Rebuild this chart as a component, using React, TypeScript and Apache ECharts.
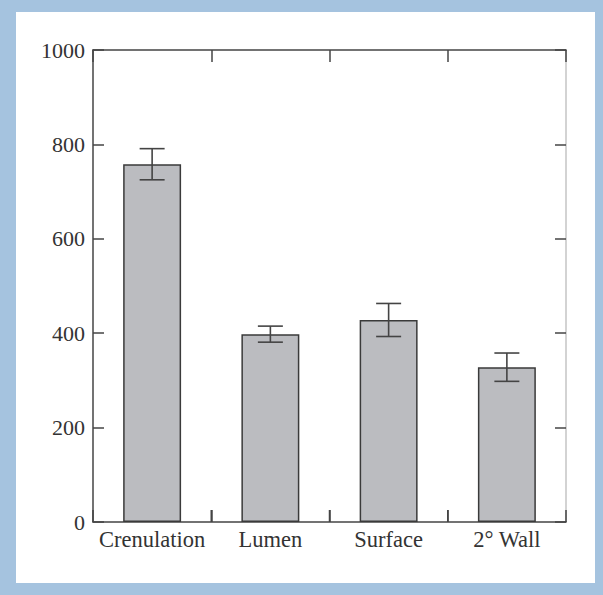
import React, { useEffect, useRef } from "react";
import * as echarts from "echarts";

const categories = ["Crenulation", "Lumen", "Surface", "2° Wall"];
const means = [758, 398, 428, 328];
const errors = [33, 17, 35, 30];
const yTicks = { min: 0, max: 1000, interval: 200 };

export default function App() {
  const ref = useRef<HTMLDivElement>(null);
  useEffect(() => {
    if (!ref.current) return;
    const chart = echarts.init(ref.current, undefined, { renderer: "svg" });
    const font = "Liberation Serif";
    const dark = "#444";
    const errData = means.map((m, i) => [i, m - errors[i], m + errors[i]]);
    chart.setOption({
      animation: false,
      backgroundColor: "#a5c3df",
      graphic: [
        {
          type: "rect",
          left: 16,
          top: 12,
          shape: { width: 579, height: 571 },
          style: { fill: "#ffffff" },
          z: -10,
          silent: true,
        },
      ],
      grid: { left: 93, top: 50, right: 37, bottom: 73, containLabel: false },
      xAxis: [
        {
          type: "category",
          data: categories,
          position: "bottom",
          axisLine: { onZero: false, lineStyle: { color: dark, width: 1.5 } },
          axisTick: { show: true, interval: 0, inside: true, length: 12, lineStyle: { color: dark, width: 1.5 } },
          axisLabel: { interval: 0, color: "#333", fontFamily: font, fontSize: 22.5, margin: 6 },
          splitLine: { show: false },
        },
        {
          type: "category",
          data: categories,
          position: "top",
          axisLine: { show: true, onZero: false, lineStyle: { color: dark, width: 1.5 } },
          axisTick: { show: true, interval: 0, inside: true, length: 12, lineStyle: { color: dark, width: 1.5 } },
          axisLabel: { show: false },
          splitLine: { show: false },
        },
      ],
      yAxis: [
        {
          type: "value",
          min: yTicks.min,
          max: yTicks.max,
          interval: yTicks.interval,
          position: "left",
          axisLine: { show: true, onZero: false, lineStyle: { color: dark, width: 1.5 } },
          axisTick: { show: true, inside: true, length: 11, lineStyle: { color: dark, width: 1.5 } },
          axisLabel: {
            color: "#333",
            fontFamily: font,
            fontSize: 22,
            margin: 8,
            formatter: (v: number) => String(v),
          },
          splitLine: { show: false },
        },
        {
          type: "value",
          min: yTicks.min,
          max: yTicks.max,
          interval: yTicks.interval,
          position: "right",
          axisLine: { show: true, onZero: false, lineStyle: { color: "#c4c4c4", width: 1.5 } },
          axisTick: { show: true, inside: true, length: 11, lineStyle: { color: dark, width: 1.5 } },
          axisLabel: { show: false },
          splitLine: { show: false },
        },
      ],
      series: [
        {
          type: "bar",
          data: means,
          barWidth: "49%",
          itemStyle: { color: "#bbbcc0", borderColor: "#3a3a3a", borderWidth: 1.5 },
          z: 2,
        },
        {
          type: "custom",
          data: errData,
          z: 5,
          clip: false,
          renderItem: (params: any, api: any) => {
            const x = api.value(0);
            const lo = api.coord([x, api.value(1)]);
            const hi = api.coord([x, api.value(2)]);
            const base = api.coord([x, yTicks.min]);
            const band = api.size([1, 0])[0];
            const hw = 12.5;
            const style = { stroke: dark, lineWidth: 1.6 };
            const children: any[] = [
              { type: "line", shape: { x1: lo[0], y1: lo[1], x2: hi[0], y2: hi[1] }, style },
              { type: "line", shape: { x1: hi[0] - hw, y1: hi[1], x2: hi[0] + hw, y2: hi[1] }, style },
              { type: "line", shape: { x1: lo[0] - hw, y1: lo[1], x2: lo[0] + hw, y2: lo[1] }, style },
            ];
            if (params.dataIndex > 0) {
              const bx = base[0] - band / 2;
              children.push({
                type: "line",
                shape: { x1: bx, y1: base[1], x2: bx, y2: base[1] - 12 },
                style: { stroke: dark, lineWidth: 1.5 },
              });
            }
            return { type: "group", children };
          },
        },
      ],
    });
    return () => chart.dispose();
  }, []);
  return (
    <div
      ref={ref}
      style={{ position: "fixed", left: 0, top: 0, width: 603, height: 595 }}
    />
  );
}
